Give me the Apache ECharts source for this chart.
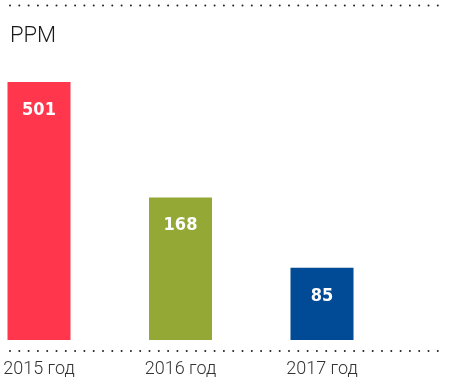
<!DOCTYPE html>
<html>
<head>
<meta charset="utf-8">
<style>
  html, body { margin: 0; padding: 0; background: #fff; overflow: hidden; }
  /* chart canvas shifted left so the first bar can sit at the page edge */
  #root { width: 491px; height: 378px; margin-left: -40px; }
</style>
<script src="https://cdn.jsdelivr.net/npm/echarts@6.0.0/dist/echarts.min.js"></script>
</head>
<body>
<div id="root"></div>
<script>
  // chart data
  const categories = ['2015 год', '2016 год', '2017 год'];
  const values = [501, 168, 85];
  const barColors = ['#FF364C', '#94A836', '#004A96'];
  const unitLabel = 'PPM';

  const shift = 40;
  const chart = echarts.init(document.getElementById('root'));

  // dotted rule across the page
  function dottedRule(y) {
    return {
      type: 'line',
      shape: { x1: 10 + shift, y1: y, x2: 447 + shift, y2: y },
      style: { stroke: '#222', lineWidth: 2, lineCap: 'round', lineDash: [0, 9.3] },
      silent: true
    };
  }

  chart.setOption({
    animation: false,
    title: {
      text: unitLabel,
      left: 10 + shift,
      top: 25,
      padding: 0,
      textStyle: { fontFamily: 'Roboto', fontWeight: 300, fontSize: 22, color: '#1a1a1a' }
    },
    grid: { left: 8.25, width: 424.5, top: 82, height: 258 },
    xAxis: {
      type: 'category',
      data: categories,
      axisLine: { show: false },
      axisTick: { show: false },
      axisLabel: {
        margin: 20,
        fontFamily: 'Roboto',
        fontWeight: 300,
        fontSize: 18,
        color: '#333'
      }
    },
    yAxis: {
      type: 'value',
      min: 0,
      max: 304,
      show: false
    },
    series: [{
      type: 'bar',
      barWidth: 63,
      clip: true,
      data: values.map((v, i) => ({ value: v, itemStyle: { color: barColors[i] } })),
      label: {
        show: true,
        position: 'insideTop',
        distance: 19,
        color: '#fff',
        fontFamily: "'DejaVu Sans Condensed', Roboto, sans-serif",
        fontWeight: 'bold',
        fontSize: 18
      }
    }],
    graphic: [dottedRule(5.5), dottedRule(351)]
  });
</script>
</body>
</html>
